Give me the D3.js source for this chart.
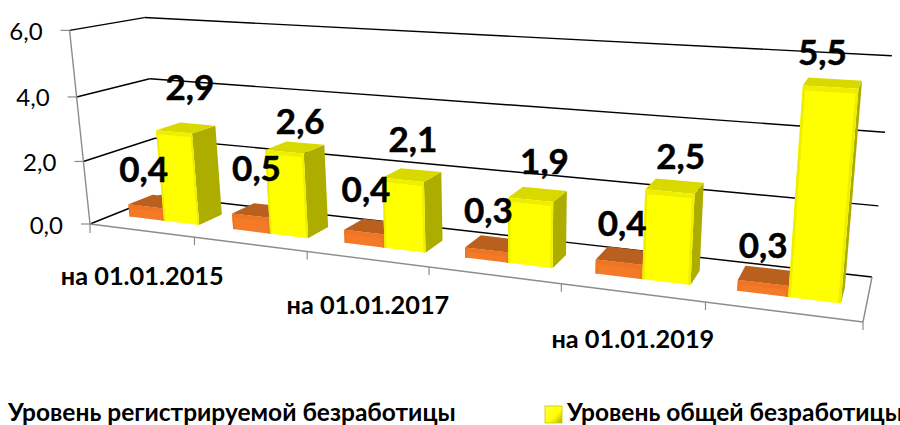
<!DOCTYPE html>
<html><head><meta charset="utf-8">
<script src="https://cdnjs.cloudflare.com/ajax/libs/d3/7.8.5/d3.min.js"></script>
<style>html,body{margin:0;padding:0;background:#fff;overflow:hidden}svg{display:block}</style>
</head><body><svg id="c" width="900" height="425"></svg>
<script>
const categories=["на 01.01.2015","на 01.01.2016","на 01.01.2017","на 01.01.2018","на 01.01.2019","на 01.01.2020"];
const seriesNames=["Уровень регистрируемой безработицы","Уровень общей безработицы"];
const registered=[0.4,0.5,0.4,0.3,0.4,0.3];
const general=[2.9,2.6,2.1,1.9,2.5,5.5];
const yTicks=[0,2,4,6];
// label placement nudges relative to the bar top
const regNudge=[[-2,-24],[6,-35],[2,-30],[2,-27],[3,-26],[0,-25]];
const genNudge=[[16,-32],[16,-18],[10,-28],[14,-26],[11,-23],[-8,-22]];

const FONT="Lato, 'Noto Sans', sans-serif";
const svg=d3.select("#c");
const fmt=d3.formatLocale({decimal:",",thousands:" ",grouping:[3],currency:["",""]}).format(".1f");

// projective frame: floor corners and upper wall corners
const floorQ=[[90,224],[863,322],[872,277],[160,196]];
const upper=[[0,0,72,31],[0,1,142,16],[1,1,892,57]];
function homography(q){
  const [[x0,y0],[x1,y1],[x2,y2],[x3,y3]]=q;
  const dx1=x1-x2,dx2=x3-x2,sx=x0-x1+x2-x3,dy1=y1-y2,dy2=y3-y2,sy=y0-y1+y2-y3;
  const den=dx1*dy2-dx2*dy1,g=(sx*dy2-dx2*sy)/den,h=(dx1*sy-sx*dy1)/den;
  return {a:x1-x0+g*x1,b:x3-x0+h*x3,c:x0,d:y1-y0+g*y1,e:y3-y0+h*y3,f:y0,g,h};
}
const H=homography(floorQ);
// least squares for the vertical column of the projection matrix
function vertical(){
  const rows=[],rhs=[];
  upper.forEach(([u,v,x,y])=>{
    const W=H.g*u+H.h*v+1,Ax=H.a*u+H.b*v+H.c,Ay=H.d*u+H.e*v+H.f;
    rows.push([1,0,-x]);rhs.push(x*W-Ax);
    rows.push([0,1,-y]);rhs.push(y*W-Ay);
  });
  const M=[[0,0,0,0],[0,0,0,0],[0,0,0,0]];
  rows.forEach((r,k)=>{for(let i=0;i<3;i++){for(let j=0;j<3;j++)M[i][j]+=r[i]*r[j];M[i][3]+=r[i]*rhs[k];}});
  for(let i=0;i<3;i++){
    let p=i;for(let k=i+1;k<3;k++)if(Math.abs(M[k][i])>Math.abs(M[p][i]))p=k;
    [M[i],M[p]]=[M[p],M[i]];
    for(let k=0;k<3;k++)if(k!==i){const m=M[k][i]/M[i][i];for(let j=i;j<4;j++)M[k][j]-=m*M[i][j];}
  }
  return [M[0][3]/M[0][0],M[1][3]/M[1][1],M[2][3]/M[2][2]];
}
const [cx,cy,ci]=vertical();
const hScale=d3.scaleLinear().domain([0,6]).range([0,1]);
const P=(u,v,val)=>{const k=hScale(val),w=H.g*u+H.h*v+1+ci*k;
  return [(H.a*u+H.b*v+H.c+cx*k)/w,(H.d*u+H.e*v+H.f+cy*k)/w];};
const uBand=d3.scaleBand().domain(d3.range(categories.length)).range([0,1]);
const serBand=d3.scaleBand().domain([0,1]).range([0.16,0.84]);
const vFront=0.32,vBack=0.67;
const line=d3.line();
const poly=(pts,fill)=>svg.append("path").attr("d",line(pts)+"Z").attr("fill",fill);
const seg=(a,b,stroke,w)=>svg.append("path").attr("d",line([a,b])).attr("stroke",stroke).attr("stroke-width",w).attr("fill","none");

// back wall & left wall gridlines
yTicks.forEach(t=>{
  seg(P(0,0,t),P(0,1,t),"#000",1.4);
  seg(P(0,1,t),P(1,1,t),"#000",1.4);
});
// axes
const grey="#8c8c8c";
seg(P(0,0,0),P(0,0,6),grey,1.4);
seg(P(0,0,0),P(1,0,0),grey,1.4);
seg(P(1,0,0),P(1,1,0),grey,1.4);
yTicks.forEach(t=>{const p=P(0,0,t);seg([p[0]-9,p[1]],p,grey,1.2);
  svg.append("text").attr("x",p[0]-27).attr("y",p[1]+9.5).attr("text-anchor","end")
   .attr("font-family",FONT).attr("font-size",24).attr("fill","#000").text(fmt(t));});
categories.forEach((c,i)=>{
  const b=P(uBand(i)+uBand.bandwidth(),0,0);seg(b,[b[0],b[1]+8],grey,1.2);});
{const o=P(0,0,0);seg(o,[o[0],o[1]+9],grey,1.2);}
categories.forEach((c,i)=>{ if(i%2) return;
  const p=P(uBand(i)+uBand.bandwidth()/2,0,0);
  svg.append("text").attr("x",p[0]+1).attr("y",p[1]+55).attr("text-anchor","middle")
   .attr("font-family",FONT).attr("font-size",25.3).attr("font-weight",700).attr("fill","#000").text(c);});

// bars
const palettes=[
 {front:"#f47a28",side:"#a85518",top:"#b9601f",edge:"#ee7524"},
 {front:"#ffff00",side:"#adad00",top:"#d9d900",edge:"#eeee00"}];
function bar(i,s,val){
  const pal=palettes[s],u0=uBand(i)+serBand(s)*uBand.bandwidth(),u1=u0+serBand.bandwidth()*uBand.bandwidth();
  const du=(u1-u0)*0.05,dh=0.12;
  poly([P(u1,vFront,0),P(u1,vBack,0),P(u1,vBack,val),P(u1,vFront,val)],pal.side);
  poly([P(u0,vFront,val),P(u1,vFront,val),P(u1,vBack,val),P(u0,vBack,val)],pal.top);
  poly([P(u0,vFront,0),P(u1,vFront,0),P(u1,vFront,val),P(u0,vFront,val)],pal.front);
  poly([P(u0,vFront,val),P(u1,vFront,val),P(u1-du,vFront,val-dh),P(u0+du,vFront,val-dh)],pal.edge);
  poly([P(u1,vFront,0),P(u1,vFront,val),P(u1-du,vFront,val-dh),P(u1-du,vFront,0)],pal.edge);
  poly([P(u0,vFront,0),P(u0,vFront,val),P(u0+du,vFront,val-dh),P(u0+du,vFront,0)],pal.edge);
}
categories.forEach((c,i)=>{bar(i,0,registered[i]);bar(i,1,general[i]);});

// value labels
function label(i,s,val,n){
  const u=uBand(i)+(serBand(s)+serBand.bandwidth()/2)*uBand.bandwidth();
  const p=P(u,vFront,val);
  svg.append("text").attr("x",p[0]+n[0]).attr("y",p[1]+n[1]).attr("text-anchor","middle")
   .attr("font-family",FONT).attr("font-size",35).attr("font-weight",700).attr("fill","#000")
   .attr("stroke","#000").attr("stroke-width",0.5).text(fmt(val));
}
categories.forEach((c,i)=>{label(i,0,registered[i],regNudge[i]);label(i,1,general[i],genNudge[i]);});

// legend
svg.append("text").attr("x",8).attr("y",421).attr("font-family",FONT).attr("font-size",24.5).attr("font-weight",700).text(seriesNames[0]);
const defs=svg.append("defs").append("linearGradient").attr("id","lg").attr("x1",0).attr("y1",0).attr("x2",1).attr("y2",1);
defs.append("stop").attr("offset",0).attr("stop-color","#ffff40");
defs.append("stop").attr("offset",.6).attr("stop-color","#ffff00");
defs.append("stop").attr("offset",1).attr("stop-color","#adad00");
svg.append("rect").attr("x",545).attr("y",406).attr("width",17).attr("height",17).attr("fill","url(#lg)").attr("stroke","#c8c800").attr("stroke-width",.8);
svg.append("text").attr("x",567).attr("y",421).attr("font-family",FONT).attr("font-size",24.5).attr("font-weight",700).text(seriesNames[1]);
</script></body></html>
